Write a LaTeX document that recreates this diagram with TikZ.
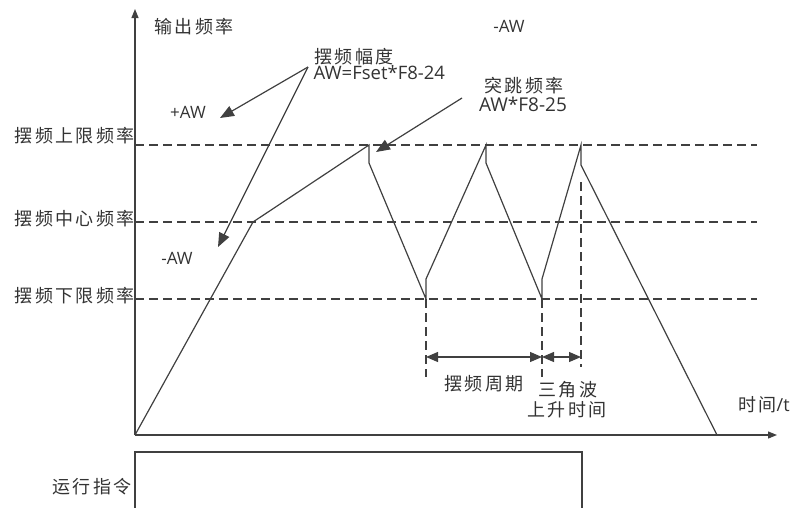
\documentclass[tikz,border=0pt]{standalone}
\usepackage{fontspec}
\setmainfont{Open Sans}
\newfontfamily\cjk{Noto Sans CJK SC}[LetterSpace=13]
\usetikzlibrary{arrows.meta}
\definecolor{linegray}{RGB}{64,64,64}
\definecolor{txtgray}{RGB}{51,51,51}

\begin{document}
\begin{tikzpicture}[
  x=1pt, y=-1pt,
  line width=1.2pt, color=linegray,
  zh/.style={font=\cjk\fontsize{18}{20}\selectfont, text=txtgray, inner sep=0pt},
  en/.style={font=\fontsize{17}{19}\selectfont, text=txtgray, inner sep=0pt},
  guide/.style={dash pattern=on 9pt off 5pt, line width=1.3pt},
  ptr/.style={-{Triangle[length=14pt,width=11pt]}},
  span/.style={{Triangle[length=12pt,width=10pt]}-{Triangle[length=12pt,width=10pt]}},
  axis/.style={-{Triangle[length=9pt,width=7pt]}}
]
  \useasboundingbox (0,0) rectangle (795,507);

  % axes
  \coordinate (org) at (135,435);
  \coordinate (ytop) at (135,9);
  \coordinate (xend) at (777,435);
  \draw[axis] (org) -- (ytop);
  \draw[axis] (org) -- (xend);

  % limit lines
  \coordinate (hiL) at (135,145);  \coordinate (hiR) at (757,145);
  \coordinate (midL) at (135,222); \coordinate (midR) at (757,222);
  \coordinate (loL) at (135,299);  \coordinate (loR) at (757,299);
  \draw[guide] (hiL) -- (hiR);
  \draw[guide] (midL) -- (midR);
  \draw[guide] (loL) -- (loR);

  % output frequency
  \coordinate (c1) at (253,222);
  \coordinate (p1) at (369,145);  \coordinate (p1b) at (369,163);
  \coordinate (v1) at (426,299);  \coordinate (v1b) at (426,279);
  \coordinate (p2) at (486,145);  \coordinate (p2b) at (486,163);
  \coordinate (v2) at (542,299);  \coordinate (v2b) at (542,279);
  \coordinate (p3) at (581,145);  \coordinate (p3b) at (581,165);
  \coordinate (stop) at (717,435);
  \draw (org) -- (c1) -- (p1) -- (p1b) -- (v1) -- (v1b) -- (p2) -- (p2b)
        -- (v2) -- (v2b) -- (p3) -- (p3b) -- (stop);

  % period marks
  \coordinate (t1) at (426,377);
  \coordinate (t2) at (542,377);
  \coordinate (t3a) at (581,182);
  \coordinate (t3) at (581,367);
  \draw[guide] (v1) -- (t1);
  \draw[guide] (v2) -- (t2);
  \draw[guide] (t3a) -- (t3);
  \coordinate (s1) at (426,357);
  \coordinate (s2) at (542,357);
  \coordinate (s3) at (581,357);
  \draw[span] (s1) -- (s2);
  \draw[span] (s2) -- (s3);

  % run command
  \coordinate (r0) at (135,508);
  \coordinate (r1) at (135,452);
  \coordinate (r2) at (582,452);
  \coordinate (r3) at (582,508);
  \draw (r0) -- (r1) -- (r2) -- (r3);

  % labels
  \node[zh] (fout) at (194,27) {输出频率};
  \node[zh, anchor=east] (fhi) at (135,136) {摆频上限频率};
  \node[zh, anchor=east] (fmid) at (135,219) {摆频中心频率};
  \node[zh, anchor=east] (flo) at (135,296) {摆频下限频率};
  \node[zh, anchor=east] (run) at (132,487) {运行指令};
  \node[en] (plus) at (188,112) {+AW};
  \node[en] (minus) at (177,258) {-AW};
  \node[en] (minustop) at (509,26) {-AW};
  \node[zh, anchor=west] (amp) at (314,57) {摆频幅度};
  \node[en, font=\fontsize{18.5}{20}\selectfont, anchor=west] (ampf) at (313,73) {AW=Fset*F8-24};
  \node[zh] (jump) at (524,86) {突跳频率};
  \node[en, font=\fontsize{19}{20}\selectfont] (jumpf) at (523,104) {AW*F8-25};
  \node[zh] (period) at (484,384) {摆频周期};
  \node[zh] (rise1) at (568,390) {三角波};
  \node[zh] (rise2) at (567,410) {上升时间};
  \node[zh] (tlabel) at (764,405) {时间{\fontspec{Open Sans}/t}};

  % pointers
  \coordinate (ampo) at (308,67);
  \coordinate (jumpo) at (462,98);
  \coordinate (plustip) at (220,118);
  \coordinate (minustip) at (218,247);
  \coordinate (jumptip) at (376,152);
  \draw[ptr] (ampo) -- (plustip);
  \draw[ptr] (ampo) -- (minustip);
  \draw[ptr] (jumpo) -- (jumptip);
\end{tikzpicture}
\end{document}
